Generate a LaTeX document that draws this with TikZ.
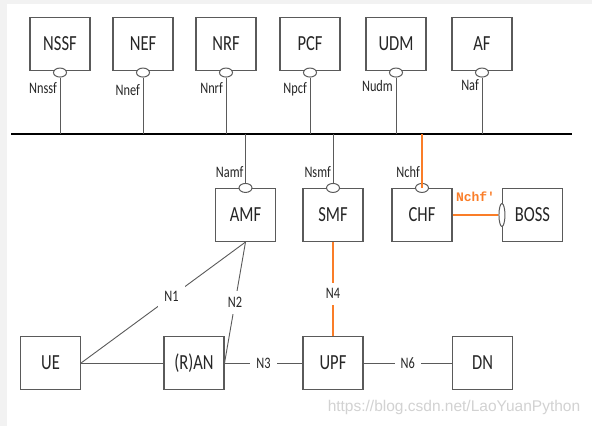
\documentclass[tikz,border=0pt]{standalone}
\usepackage{fontspec}
\setmainfont[FakeStretch=0.77]{Carlito}
\newfontfamily\wmfont{Liberation Sans}
\newfontfamily\chfmono{Liberation Mono}
\usetikzlibrary{shapes.geometric, positioning, calc}
\definecolor{chg}{RGB}{250,125,40}
\definecolor{boxgray}{RGB}{90,90,90}

\begin{document}
\begin{tikzpicture}[x=1pt, y=-1pt,
    nf/.style={rectangle, draw=boxgray, line width=1.1pt, text=black!85,
               minimum width=60pt, minimum height=53pt, inner sep=0pt,
               font=\fontsize{21.5}{24}\selectfont},
    port/.style={ellipse, draw=boxgray, fill=white, line width=1pt,
                 minimum width=13pt, minimum height=9pt, inner sep=0pt},
    vport/.style={port, minimum width=6pt, minimum height=23pt},
    ifname/.style={inner sep=0pt, text=black!85, font=\fontsize{16}{18}\selectfont},
    ref/.style={fill=white, inner sep=6pt, text=black!85, font=\fontsize{16}{18}\selectfont},
    link/.style={draw=boxgray, line width=0.9pt},
    chlink/.style={draw=chg, line width=2.4pt}]

    % Frame
    \fill[gray!10] (0,0) rectangle (592,426);
    \fill[white] (7,4) rectangle (592,426);
    \useasboundingbox (0,0) rectangle (592,426);

    % Bus
    \coordinate (busL) at (11,134);
    \coordinate (busR) at (572,134);
    \draw[line width=2.5pt] (busL) -- (busR);

    % Service functions above the bus
    \node[nf] (nssf) at (60,44) {NSSF};
    \node[nf] (nef) at (143,44) {NEF};
    \node[nf] (nrf) at (226,44) {NRF};
    \node[nf] (pcf) at (310,44) {PCF};
    \node[nf] (udm) at (396,44) {UDM};
    \node[nf] (af) at (482,44) {AF};

    \node[port, yshift=-1.5pt] (pnssf) at (nssf.south) {};
    \node[port, yshift=-1.5pt] (pnef) at (nef.south) {};
    \node[port, yshift=-1.5pt] (pnrf) at (nrf.south) {};
    \node[port, yshift=-1.5pt] (ppcf) at (pcf.south) {};
    \node[port, yshift=-1.5pt] (pudm) at (udm.south) {};
    \node[port, yshift=-1.5pt] (paf) at (af.south) {};

    \node[ifname, anchor=north east] (lnssf) at ($(pnssf.south)+(-3,5)$) {Nnssf};
    \node[ifname, anchor=north east] (lnef) at ($(pnef.south)+(-3,7)$) {Nnef};
    \node[ifname, anchor=north east] (lnrf) at ($(pnrf.south)+(-3,5)$) {Nnrf};
    \node[ifname, anchor=north east] (lpcf) at ($(ppcf.south)+(-3,5)$) {Npcf};
    \node[ifname, anchor=north east] (ludm) at ($(pudm.south)+(-3,3)$) {Nudm};
    \node[ifname, anchor=north east] (laf) at ($(paf.south)+(-3,2)$) {Naf};

    \draw[link] (pnssf) -- (pnssf |- busL);
    \draw[link] (pnef) -- (pnef |- busL);
    \draw[link] (pnrf) -- (pnrf |- busL);
    \draw[link] (ppcf) -- (ppcf |- busL);
    \draw[link] (pudm) -- (pudm |- busL);
    \draw[link] (paf) -- (paf |- busL);

    % Functions below the bus
    \node[nf] (amf) at (245.5,215) {AMF};
    \node[nf] (smf) at (333,215) {SMF};
    \node[nf] (chf) at (422,215) {CHF};
    \node[nf] (boss) at (532.5,215) {BOSS};

    \node[port] (pamf) at (amf.north) {};
    \node[port] (psmf) at (smf.north) {};
    \node[port] (pchf) at (chf.north) {};
    \node[vport] (pboss) at (boss.west) {};

    \node[ifname, anchor=south east] (lamf) at ($(pamf.north)+(-2,-5)$) {Namf};
    \node[ifname, anchor=south east] (lsmf) at ($(psmf.north)+(-2,-5)$) {Nsmf};
    \node[ifname, anchor=south east] (lchf) at ($(pchf.north)+(-2,-5)$) {Nchf};

    \draw[link] (pamf) -- (pamf |- busL);
    \draw[link] (psmf) -- (psmf |- busL);
    \draw[chlink] (pchf |- busL) -- (pchf.center);
    \draw[chlink] (chf.east) -- (pboss)
        node[midway, above=12pt, inner sep=0pt, text=chg,
             font=\chfmono\bfseries\fontsize{13}{15}\selectfont] (lboss) {Nchf'};

    % Access and user plane
    \node[nf] (ue) at (50.5,363) {UE};
    \node[nf] (ran) at (194,363) {(R)AN};
    \node[nf] (upf) at (333,363) {UPF};
    \node[nf] (dn) at (482.5,363) {DN};

    \draw[link] (ue.east) -- (ran.west);
    \draw[link] (ue.east) -- (amf.south) node[ref, pos=0.55] (n1) {N1};
    \draw[link] (ran.east) -- (amf.south) node[ref, midway] (n2) {N2};
    \draw[link] (ran) -- (upf) node[ref, midway] (n3) {N3};
    \draw[link] (upf) -- (dn) node[ref, midway] (n6) {N6};
    \draw[chlink] (smf) -- (upf) node[ref, pos=0.55] (n4) {N4};

    \node[text=gray!35, font=\wmfont\fontsize{15.5}{18}\selectfont] (wm) at (454,407)
        {https://blog.csdn.net/LaoYuanPython};
\end{tikzpicture}
\end{document}
